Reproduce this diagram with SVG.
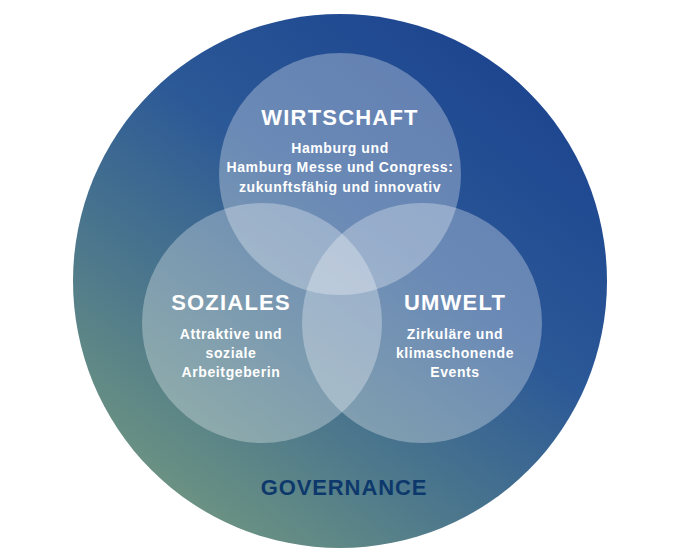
<svg xmlns="http://www.w3.org/2000/svg" width="700" height="560" viewBox="0 0 700 560">
  <defs>
    <linearGradient id="bg" x1="0.85" y1="0.08" x2="0.2" y2="0.95">
      <stop offset="0" stop-color="#1c448f"/>
      <stop offset="0.4" stop-color="#2b5897"/>
      <stop offset="0.72" stop-color="#4d788c"/>
      <stop offset="1" stop-color="#6f9581"/>
    </linearGradient>
  </defs>
  <style>
    .petal { fill: #ffffff; fill-opacity: 0.3; }
    .title { font-family: "Liberation Sans", Arial, sans-serif; font-weight: 700; font-size: 22px; letter-spacing: 1.2px; fill: #ffffff; text-anchor: middle; }
    .sub { font-family: "Liberation Sans", Arial, sans-serif; font-weight: 700; font-size: 14px; letter-spacing: 0.6px; fill: #ffffff; text-anchor: middle; }
    .gov { font-family: "Liberation Sans", Arial, sans-serif; font-weight: 700; font-size: 22px; letter-spacing: 0.9px; fill: #0d386b; text-anchor: middle; }
  </style>
  <rect width="700" height="560" fill="#ffffff"/>
  <g id="governance">
    <circle cx="340" cy="281" r="267" fill="url(#bg)"/>
    <text class="gov" x="344" y="495">GOVERNANCE</text>
  </g>
  <g id="wirtschaft">
    <circle class="petal" cx="340" cy="174" r="121"/>
    <text class="title" x="340" y="125">WIRTSCHAFT</text>
    <text class="sub" x="340" y="153">Hamburg und</text>
    <text class="sub" x="340" y="172">Hamburg Messe und Congress:</text>
    <text class="sub" x="340" y="192">zukunftsfähig und innovativ</text>
  </g>
  <g id="soziales">
    <circle class="petal" cx="262" cy="323" r="120"/>
    <text class="title" x="231" y="310">SOZIALES</text>
    <text class="sub" x="231" y="339">Attraktive und</text>
    <text class="sub" x="231" y="358">soziale</text>
    <text class="sub" x="231" y="377">Arbeitgeberin</text>
  </g>
  <g id="umwelt">
    <circle class="petal" cx="422" cy="323" r="120"/>
    <text class="title" x="455" y="310">UMWELT</text>
    <text class="sub" x="455" y="339">Zirkuläre und</text>
    <text class="sub" x="455" y="358">klimaschonende</text>
    <text class="sub" x="455" y="377">Events</text>
  </g>
  <g id="connectors"></g>
</svg>
